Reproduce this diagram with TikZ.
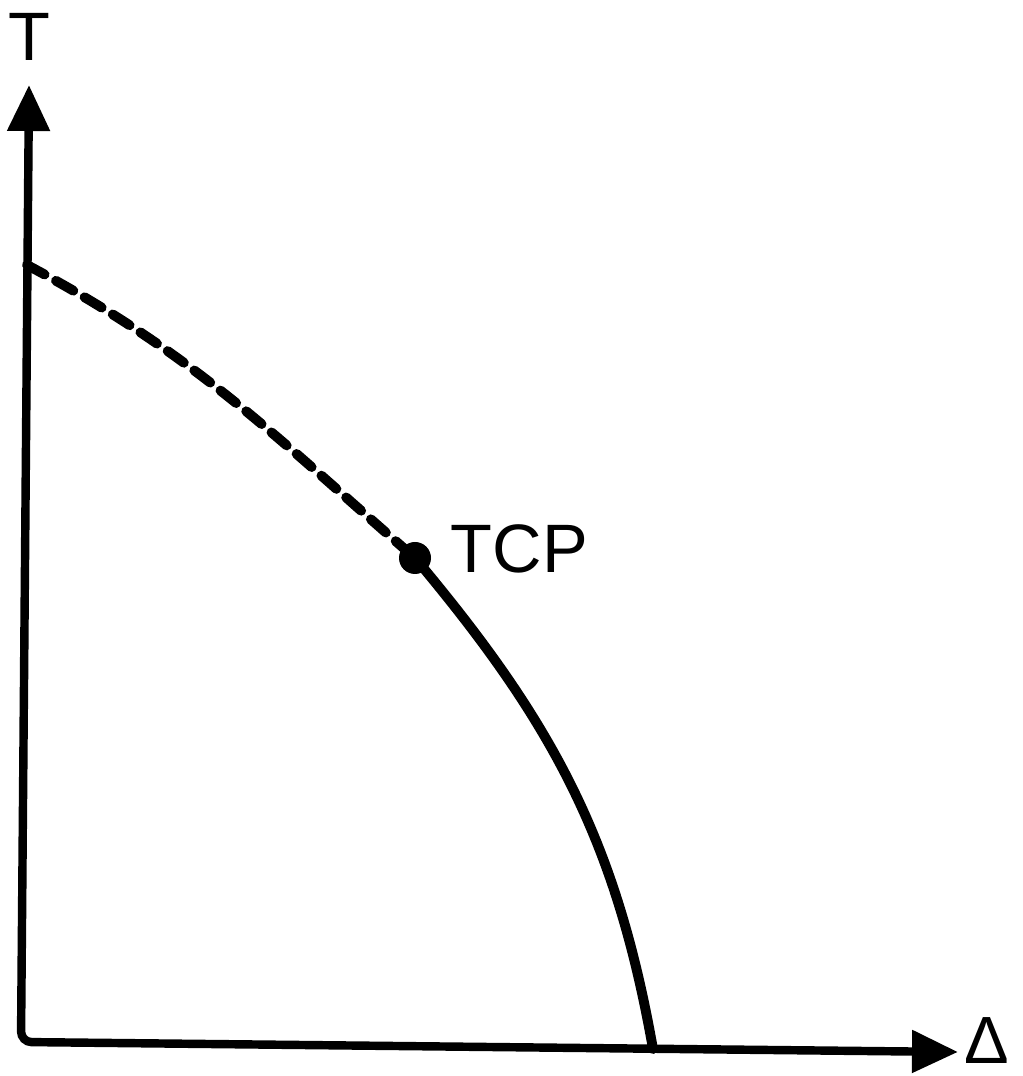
\documentclass[tikz,border=0pt]{standalone}
\usepackage{fontspec}
\setmainfont{Liberation Sans}
\usetikzlibrary{arrows.meta, positioning}

\begin{document}
\begin{tikzpicture}[
    axis/.style={line width=2.4pt, rounded corners=3pt,
      {Triangle[length=4.6mm, width=4.1mm]}-{Triangle[length=4.6mm, width=4.1mm]}},
    curve/.style={line width=2.8pt, line cap=round},
    label/.style={font=\fontsize{19.5}{20}\selectfont, inner sep=0pt}
  ]
    \useasboundingbox (0,0) rectangle (10.23,10.76);

    % Axes
    \coordinate (O) at (0.21,0.34);
    \coordinate (ytip) at (0.29,9.91);
    \coordinate (xtip) at (9.58,0.24);
    \draw[axis] (ytip) -- (O) -- (xtip);
    \node[label, anchor=north] (tlabel) at (0.29,10.63) {T};
    \node[label, font=\fontsize{19}{20}\selectfont, anchor=south east] (dlabel)
        at (10.10,0.12) {Δ};

    % Tricritical point
    \coordinate (tcp) at (4.15,5.18);
    \coordinate (tstart) at (0.27,8.11);
    \coordinate (tend) at (6.53,0.27);
    \fill (tcp) circle (0.16);
    \node[label, right=0.35 of tcp, yshift=0.09cm] (tcplabel) {TCP};

    % Dashed and solid transition lines
    \draw[curve, dash pattern=on 0.2cm off 0.13cm] (tstart) to[out=-28, in=139] (tcp);
    \draw[curve] (tcp) to[out=-50, in=100] (tend);
\end{tikzpicture}
\end{document}
